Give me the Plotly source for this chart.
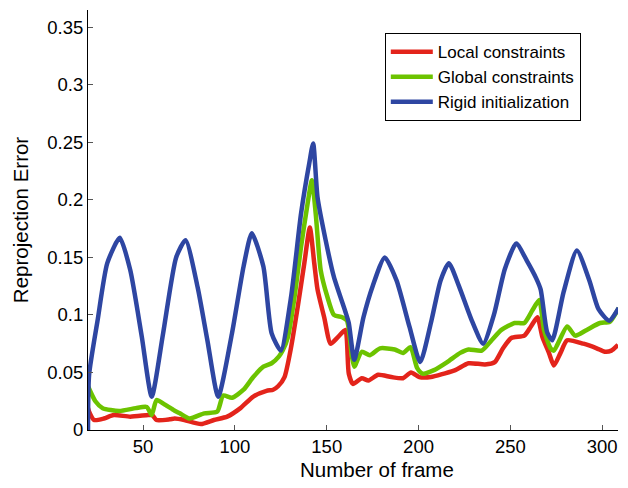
import plotly.graph_objects as go

# Local constraints (red)
local_x = [20, 20.6, 23.3, 28.7, 34, 43, 52.8, 55, 57.3, 64.5, 67.2, 72.5, 81.5, 88.6, 95.8, 103, 110, 117.2,
           120.8, 123.5, 127, 130.6, 134.2, 137.8, 140.8, 143.2, 145, 148.6, 152.1, 155.7, 160.1, 162, 164.3,
           169.1, 172.7, 178, 185.2, 191.5, 195.9, 200.4, 206.7, 213.8, 220, 227.2, 236.2, 241.5, 246, 250.5,
           257.6, 261.2, 264.7, 267.4, 271, 273.7, 277.3, 280.9, 289.8, 297, 301.4, 305, 308.6]
local_y = [0.019, 0.016, 0.0087, 0.010, 0.013, 0.0116, 0.013, 0.013, 0.0087, 0.0093, 0.010, 0.0087, 0.0052, 0.0087,
           0.0116, 0.019, 0.029, 0.034, 0.035, 0.038, 0.046, 0.072, 0.107, 0.145, 0.176, 0.145, 0.122, 0.098,
           0.075, 0.080, 0.087, 0.049, 0.040, 0.045, 0.043, 0.048, 0.046, 0.045, 0.050, 0.046, 0.046, 0.049,
           0.052, 0.058, 0.057, 0.059, 0.071, 0.080, 0.082, 0.090, 0.098, 0.081, 0.067, 0.056, 0.067, 0.078,
           0.075, 0.071, 0.068, 0.069, 0.074]

# Global constraints (green)
global_x = [20, 24, 28, 37, 46, 52, 54.7, 57.3, 62, 67, 70, 75.2, 83.3, 90.4, 93.6, 98.4, 104.7, 110, 115.5,
            120, 124, 126, 128.9, 132.5, 136, 139.6, 141.9, 144, 146.7, 150.3, 153.9, 158.4, 161, 163.7, 165,
            169.1, 173.5, 179, 187, 191.5, 195.6, 199.2, 202.2, 208.4, 215.6, 222.7, 227.2, 234.4, 239.8, 245.1,
            252.3, 257.6, 262, 265.7, 268.3, 271.9, 273.7, 280.9, 285.3, 291.6, 298.8, 304.1, 309]
global_y = [0.038, 0.025, 0.019, 0.0165, 0.019, 0.020, 0.013, 0.026, 0.022, 0.017, 0.0145, 0.010, 0.0145, 0.016,
            0.030, 0.028, 0.035, 0.046, 0.055, 0.058, 0.064, 0.069, 0.081, 0.116, 0.159, 0.197, 0.217, 0.188,
            0.139, 0.116, 0.100, 0.098, 0.095, 0.064, 0.055, 0.068, 0.065, 0.071, 0.070, 0.067, 0.072, 0.054,
            0.049, 0.052, 0.059, 0.067, 0.070, 0.069, 0.078, 0.087, 0.093, 0.093, 0.104, 0.113, 0.087, 0.071,
            0.069, 0.090, 0.082, 0.087, 0.093, 0.094, 0.106]

# Rigid initialization (blue)
rigid_x = [20, 20.6, 25.2, 30.5, 37.3, 43, 49.3, 54.7, 60.9, 68, 73.1, 79.7, 85, 90.9, 98.4, 104.7, 109.2,
           115.5, 120, 125, 130.6, 136, 140.5, 142.6, 145, 149.4, 153.9, 160.1, 162, 165, 170, 175, 181.6,
           188, 195, 200.9, 207, 212, 216.5, 222, 229, 235.2, 241, 247, 253.2, 259, 264, 266.5, 270, 272.8,
           279, 286.2, 293, 298, 303.8, 309]
rigid_y = [0.0, 0.048, 0.095, 0.145, 0.167, 0.139, 0.081, 0.029, 0.084, 0.150, 0.165, 0.124, 0.078, 0.029,
           0.084, 0.142, 0.171, 0.142, 0.084, 0.069, 0.116, 0.188, 0.232, 0.249, 0.202, 0.165, 0.133, 0.103,
           0.093, 0.061, 0.098, 0.125, 0.150, 0.130, 0.090, 0.059, 0.095, 0.130, 0.145, 0.125, 0.095, 0.075,
           0.100, 0.140, 0.162, 0.147, 0.132, 0.122, 0.085, 0.078, 0.120, 0.156, 0.130, 0.105, 0.095, 0.106]

x_ticks = [50, 100, 150, 200, 250, 300]
y_ticks = [0, 0.05, 0.1, 0.15, 0.2, 0.25, 0.3, 0.35]
y_tick_labels = ["0", "0.05", "0.1", "0.15", "0.2", "0.25", "0.3", "0.35"]

series = [
    ("Local constraints", local_x, local_y, "#e3241b"),
    ("Global constraints", global_x, global_y, "#6cc300"),
    ("Rigid initialization", rigid_x, rigid_y, "#2e46a2"),
]

fig = go.Figure()
for name, xs, ys, col in series:
    fig.add_trace(go.Scatter(x=xs, y=ys, mode="lines", name=name,
                             line=dict(color=col, width=4.5, shape="spline", smoothing=0.6)))

font_family = "Liberation Sans, Arial, sans-serif"
fig.update_layout(
    template="none",
    width=612, height=472,
    margin=dict(l=80, r=2, t=2, b=50, autoexpand=False),
    paper_bgcolor="white", plot_bgcolor="white",
    font=dict(family=font_family, size=18, color="black"),
    showlegend=True,
    legend=dict(x=0.560, y=0.945, xanchor="left", yanchor="top",
                bgcolor="white", bordercolor="black", borderwidth=1,
                font=dict(size=17, family=font_family), itemwidth=42,
                tracegroupgap=0),
    xaxis=dict(range=[20, 308.6], tickvals=x_ticks, ticks="inside", ticklen=5, tickcolor="#555",
               showline=True, linecolor="black", linewidth=1, showgrid=False, zeroline=False,
               mirror=False, automargin=False, tickfont=dict(size=18.5)),
    yaxis=dict(range=[0, 0.365], tickvals=y_ticks, ticktext=y_tick_labels, ticks="inside", ticklen=5,
               tickcolor="#555",
               showline=True, linecolor="black", linewidth=1, showgrid=False, zeroline=False,
               mirror=False, automargin=False, tickfont=dict(size=18.5)),
    annotations=[
        dict(text="Number of frame", xref="paper", yref="paper", x=0.545, y=-0.095,
             xanchor="center", yanchor="middle", showarrow=False, font=dict(size=20.5)),
        dict(text="Reprojection Error", xref="paper", yref="paper", x=-0.128, y=0.5,
             xanchor="center", yanchor="middle", showarrow=False, textangle=-90, font=dict(size=20.5)),
    ],
)

fig.write_html("out.html")
